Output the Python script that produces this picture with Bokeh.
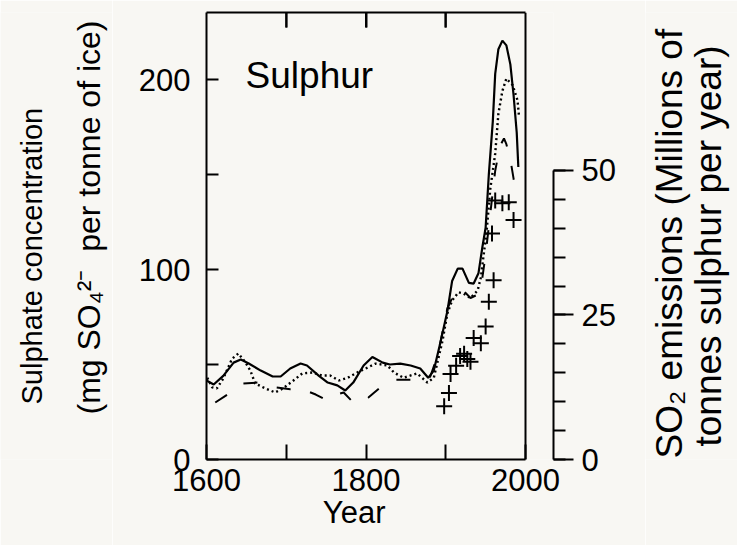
import math
from bokeh.plotting import figure
from bokeh.layouts import row
from bokeh.models import (Range1d, LinearAxis, FixedTicker, SingleIntervalTicker,
                          Span, Label)
from bokeh.embed import file_html
from bokeh.resources import INLINE

# ---- data ----
solid_years = [1600, 1609, 1621, 1634, 1643, 1653, 1668, 1683, 1693, 1705, 1718, 1726,
               1741, 1752, 1764, 1774, 1784, 1797, 1808, 1821, 1830, 1843, 1856, 1868,
               1878, 1885, 1893, 1902, 1908, 1915, 1921, 1929, 1935, 1941, 1946, 1950,
               1954, 1959, 1962, 1966, 1971, 1976, 1981, 1985, 1989, 1991]
solid_vals = [41.6, 39.5, 44, 51, 52.6, 50.5, 46.8, 43.7, 43.7, 47.9, 50.5, 49.5,
              44, 40.5, 39, 36.3, 40.5, 49.5, 54, 51, 50, 50.5, 49.5, 47.9,
              43, 46.8, 61, 78, 94, 100.5, 100.5, 93, 92.6, 98, 112, 122,
              150, 178, 203, 216, 220.5, 218, 208, 192, 172, 154]

dotted_years = [1601, 1607, 1613, 1621, 1632, 1640, 1649, 1655, 1661, 1674, 1686, 1696,
                1709, 1720, 1733, 1745, 1755, 1766, 1777, 1789, 1802, 1812, 1827, 1835,
                1847, 1864, 1877, 1885, 1896, 1902, 1908, 1916, 1922, 1931, 1940, 1944,
                1947, 1951, 1956, 1962, 1966, 1971, 1976, 1984, 1990, 1992]
dotted_vals = [43, 38, 37.4, 42.6, 53, 55.8, 51, 46.8, 40, 37.4, 35.3, 37.4,
               41.6, 45.3, 45.8, 44.2, 44.2, 41.6, 43, 45.8, 48.4, 50.5, 49.5, 45.8,
               43, 45.3, 40.5, 43, 62.6, 76.8, 83.7, 88, 87.4, 85, 89, 95.8,
               106, 119, 143, 161, 182, 194, 200.5, 197, 189, 180]

dashed_years = [1611, 1628, 1646, 1664, 1685, 1705, 1720, 1737, 1752, 1762, 1772, 1784,
                1795, 1803, 1818, 1837, 1856, 1870, 1880, 1890, 1902, 1908, 1915, 1922,
                1931, 1941, 1946, 1950, 1956, 1962, 1968, 1973, 1976, 1981, 1985, 1988]
dashed_vals = [30, 34.7, 40, 40.5, 38, 37, 37, 34.2, 31, 34, 35.3, 30,
               30, 32.6, 37.9, 42, 42, 42, 43, 55, 79.5, 85, 90, 89,
               85, 87, 96, 108, 130, 152, 165, 169, 166, 158, 148, 140]

so2_years = [1898, 1904, 1906, 1913, 1918, 1923, 1927, 1931, 1935, 1944, 1950, 1954,
             1958, 1960, 1962, 1971, 1979, 1985]
so2_vals = [9.2, 11.5, 14.8, 16.2, 17.9, 18.3, 17.4, 16.9, 21.0, 20.1, 23.0, 27.3,
            39.1, 31.0, 44.8, 44.3, 44.5, 41.4]

x_major = [1600, 1800, 2000]
x_minor = [1700, 1900]
x_top = [1700, 1800, 1900]
y_major = [0, 100, 200]
y_minor = [50, 150]

FONT = "Liberation Sans"
BG = "#f8f7f3"
H = 545
FRAME_TOP, FRAME_BOTTOM = 12, 459   # page pixels of the plotting frame
Y_TOP = 235.3
PX_PER_UNIT = (FRAME_BOTTOM - FRAME_TOP) / Y_TOP

# ---------------- main plot ----------------
p = figure(width=533, height=H, output_backend="svg", toolbar_location=None,
           x_range=Range1d(1600, 2035.1), y_range=Range1d(0, Y_TOP),
           min_border_left=94, min_border_right=92, min_border_top=FRAME_TOP,
           min_border_bottom=H - FRAME_BOTTOM, background_fill_color=BG,
           border_fill_color=BG, outline_line_color=None)
p.grid.visible = False
p.extra_y_ranges = {"so2": Range1d(0, 77.3)}

# bottom axis
xa = p.xaxis[0]
xa.ticker = FixedTicker(ticks=x_major, minor_ticks=x_minor)
xa.bounds = (1600, 2000)
xa.major_tick_in = 15
xa.major_tick_out = 0
xa.minor_tick_in = 15
xa.minor_tick_out = 0
xa.axis_line_width = 2
xa.major_tick_line_width = 2
xa.minor_tick_line_width = 2
xa.major_label_standoff = 9
xa.major_label_text_font = FONT
xa.major_label_text_font_size = "31px"
xa.major_label_text_color = "black"
xa.axis_label = "Year" + "\u00a0" * 6
xa.axis_label_text_font = FONT
xa.axis_label_text_font_size = "31px"
xa.axis_label_text_font_style = "normal"
xa.axis_label_text_color = "black"
xa.axis_label_standoff = 1

# left axis
ya = p.yaxis[0]
ya.ticker = FixedTicker(ticks=y_major, minor_ticks=y_minor)
ya.bounds = (0, Y_TOP)
ya.major_tick_in = 12
ya.major_tick_out = 0
ya.minor_tick_in = 12
ya.minor_tick_out = 0
ya.axis_line_width = 2
ya.major_tick_line_width = 2
ya.minor_tick_line_width = 2
ya.major_label_standoff = 16
ya.major_label_text_font = FONT
ya.major_label_text_font_size = "31px"
ya.major_label_text_color = "black"

# top axis (line + inward ticks; labels invisible)
ta = LinearAxis(ticker=FixedTicker(ticks=x_top), bounds=(1600, 2000),
                major_tick_in=15, major_tick_out=0, minor_tick_line_color=None,
                axis_line_width=2, major_tick_line_width=2, major_label_standoff=0,
                major_label_text_font_size="2px", major_label_text_alpha=0)
p.add_layout(ta, "above")
# inward tick marks hanging from the top edge, at the top-axis tick positions
tick_len = 15 / PX_PER_UNIT
p.segment(x0=x_top, y0=[Y_TOP] * len(x_top), x1=x_top,
          y1=[Y_TOP - tick_len] * len(x_top), line_color="black", line_width=2)

# right edge of the box
p.add_layout(Span(location=2000, dimension="height", line_color="black", line_width=2))

# right SO2 axis
ra = LinearAxis(y_range_name="so2", bounds=(0, 50),
                ticker=SingleIntervalTicker(interval=25, num_minor_ticks=5),
                major_tick_in=0, major_tick_out=20, minor_tick_in=0, minor_tick_out=12,
                axis_line_width=2, major_tick_line_width=2, minor_tick_line_width=2,
                major_label_standoff=8, major_label_text_font=FONT,
                major_label_text_font_size="31px", major_label_text_color="black")
p.add_layout(ra, "right")

# series
p.line(solid_years, solid_vals, line_color="black", line_width=2.2)
p.line(dotted_years, dotted_vals, line_color="black", line_width=2.4, line_dash="2 3")
p.line(dashed_years, dashed_vals, line_color="black", line_width=2, line_dash="14 20")
p.scatter(so2_years, so2_vals, y_range_name="so2", marker="cross", size=16,
          line_color="black", line_width=2)

p.add_layout(Label(x=1649, y=202, text="Sulphur", text_align="left",
                   text_baseline="middle", text_font=FONT, text_font_size="37px",
                   text_color="black"))


# ---------------- side panels holding the rotated axis titles ----------------
# (their frames get aligned with the main frame by the row layout, so the y range
#  is set so that data y == H - page y inside that frame)
def side_fig(w):
    f = figure(width=w, height=H, output_backend="svg", toolbar_location=None,
               x_range=Range1d(0, w), y_range=Range1d(H - FRAME_BOTTOM, H - FRAME_TOP),
               x_axis_location=None, y_axis_location=None, min_border=0,
               min_border_top=FRAME_TOP, min_border_bottom=H - FRAME_BOTTOM,
               background_fill_color=BG, border_fill_color=BG, outline_line_color=None)
    f.grid.visible = False
    return f


def vlab(f, x, y_bottom, text, size):
    # text reads upward, starting at page (x, y_bottom)
    f.add_layout(Label(x=x, y=H - y_bottom, text=text, angle=math.pi / 2,
                       text_align="left", text_baseline="middle", text_font=FONT,
                       text_font_size=size, text_color="black"))


left = side_fig(112)
vlab(left, 31, 404, "Sulphate concentration", "29px")
vlab(left, 88, 414, "(mg SO\u2084\u00b2\u207b\u00a0 per tonne of ice)", "32px")

right = side_fig(92)
vlab(right, 24, 458, "SO\u2082 emissions (Millions of", "37px")
vlab(right, 63, 446, "tonnes sulphur per year)", "37px")

layout = row(left, p, right)
open("out.html", "w").write(file_html(layout, INLINE))
